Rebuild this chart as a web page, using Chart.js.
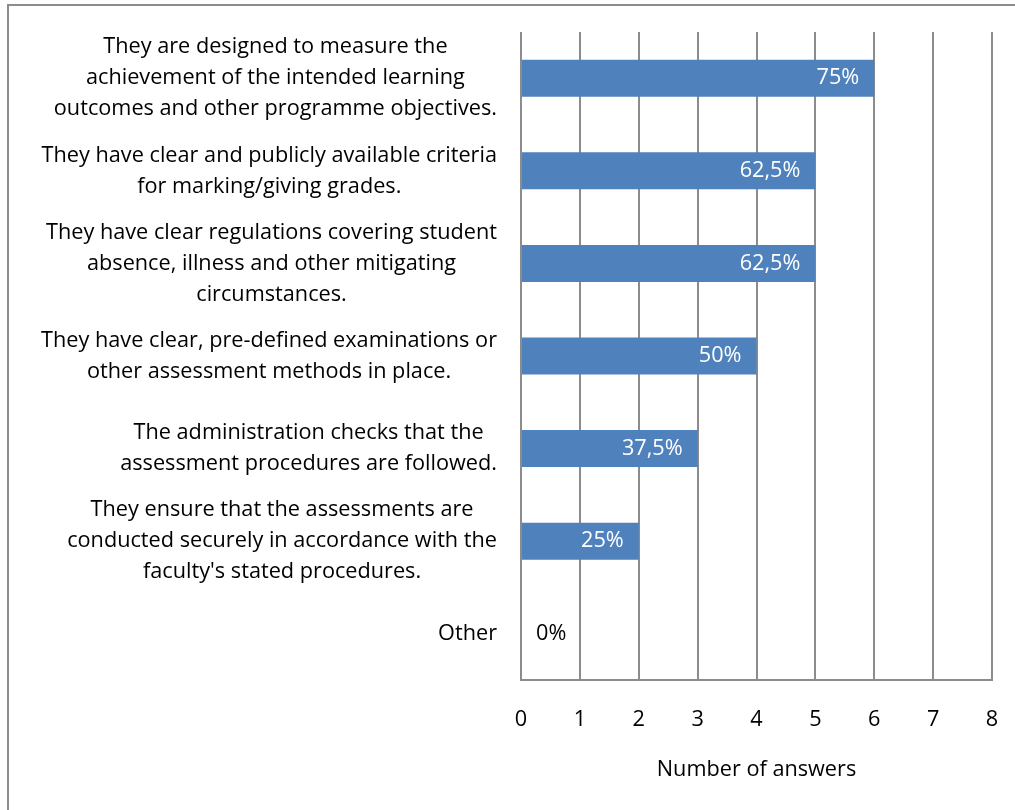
<!DOCTYPE html>
<html>
<head>
<meta charset="utf-8">
<script src="https://cdn.jsdelivr.net/npm/chart.js@4"></script>
<style>
  html, body { margin: 0; padding: 0; background: #fff; }
  #wrap { position: relative; width: 1015px; height: 810px; overflow: hidden; }
  #frame { position: absolute; left: 7px; top: 4px; width: 1100px; height: 900px; border: 2px solid #8c8c8c; box-sizing: border-box; }
  canvas { position: absolute; left: 0; top: 0; }
</style>
</head>
<body>
<div id="wrap">
  <div id="frame"></div>
  <canvas id="myChart" width="1015" height="810"></canvas>
</div>
<script>
// survey answers: statements about assessment procedures
var statements = [
  ["They are designed to measure the", "achievement of the intended learning", "outcomes and other programme objectives."],
  ["They have clear and publicly available criteria", "for marking/giving grades."],
  ["They have clear regulations covering student", "absence, illness and other mitigating", "circumstances."],
  ["They have clear, pre-defined examinations or", "other assessment methods in place."],
  ["The administration checks that the", "assessment procedures are followed."],
  ["They ensure that the assessments are", "conducted securely in accordance with the", "faculty's stated procedures."],
  ["Other"]
];
var answers = [6, 5, 5, 4, 3, 2, 0];
var respondents = 8;
var xTicks = [0, 1, 2, 3, 4, 5, 6, 7, 8];

var fontFamily = "'Open Sans', sans-serif";
var fontSize = 21.7;
var gridColor = "#8c8c8c";

function pctLabel(v) {
  var p = v / respondents * 100;
  return String(Math.round(p * 10) / 10).replace(".", ",") + "%";
}

// category labels: each block centered on itself, block right-aligned to the axis
var categoryLabels = {
  id: "categoryLabels",
  afterDraw: function (chart) {
    var ctx = chart.ctx;
    var yScale = chart.scales.y;
    var right = chart.chartArea.left - 24;
    var lineH = 31;
    ctx.save();
    ctx.font = fontSize + "px " + fontFamily;
    ctx.fillStyle = "#000";
    ctx.textAlign = "center";
    ctx.textBaseline = "middle";
    statements.forEach(function (lines, i) {
      var maxW = 0;
      lines.forEach(function (l) { maxW = Math.max(maxW, ctx.measureText(l).width); });
      var cx = right - maxW / 2;
      var cy = yScale.getPixelForTick(i);
      var top = cy - (lines.length - 1) * lineH / 2;
      lines.forEach(function (l, j) { ctx.fillText(l, cx, top + j * lineH); });
    });
    ctx.restore();
  }
};

// percentage labels inside the bar end (outside for empty bars)
var barLabels = {
  id: "barLabels",
  afterDatasetsDraw: function (chart) {
    var ctx = chart.ctx;
    var meta = chart.getDatasetMeta(0);
    ctx.save();
    ctx.font = fontSize + "px " + fontFamily;
    ctx.textBaseline = "middle";
    meta.data.forEach(function (bar, i) {
      var v = answers[i];
      if (v > 0) {
        ctx.fillStyle = "#fff";
        ctx.textAlign = "right";
        ctx.fillText(pctLabel(v), bar.x - 15, bar.y);
      } else {
        ctx.fillStyle = "#000";
        ctx.textAlign = "left";
        ctx.fillText(pctLabel(v), bar.x + 15, bar.y);
      }
    });
    ctx.restore();
  }
};

var ctx = document.getElementById("myChart").getContext("2d");
var chart = new Chart(ctx, {
  type: "bar",
  data: {
    labels: statements,
    datasets: [{
      data: answers,
      backgroundColor: "#4f81bd",
      borderWidth: 0,
      barPercentage: 0.4,
      categoryPercentage: 1.0
    }]
  },
  options: {
    indexAxis: "y",
    responsive: false,
    animation: false,
    events: [],
    layout: { padding: { left: 8, top: 32, right: 23, bottom: 0 } },
    plugins: {
      legend: { display: false },
      tooltip: { enabled: false }
    },
    scales: {
      x: {
        min: 0,
        max: 8,
        afterBuildTicks: function (scale) {
          scale.ticks = xTicks.map(function (v) { return { value: v }; });
        },
        afterFit: function (scale) {
          scale.height = 130;
          scale.paddingRight = 0;
        },
        grid: { color: gridColor, lineWidth: 2, drawTicks: false },
        border: { color: gridColor, width: 2 },
        ticks: {
          color: "#000",
          padding: 27,
          maxRotation: 0,
          font: { family: fontFamily, size: fontSize }
        },
        title: {
          display: true,
          text: "Number of answers",
          color: "#000",
          padding: { top: 4, bottom: 27 },
          font: { family: fontFamily, size: fontSize }
        }
      },
      y: {
        afterFit: function (scale) { scale.width = 513; },
        grid: { display: false },
        border: { display: false },
        ticks: { display: false }
      }
    }
  },
  plugins: [categoryLabels, barLabels]
});
</script>
</body>
</html>
